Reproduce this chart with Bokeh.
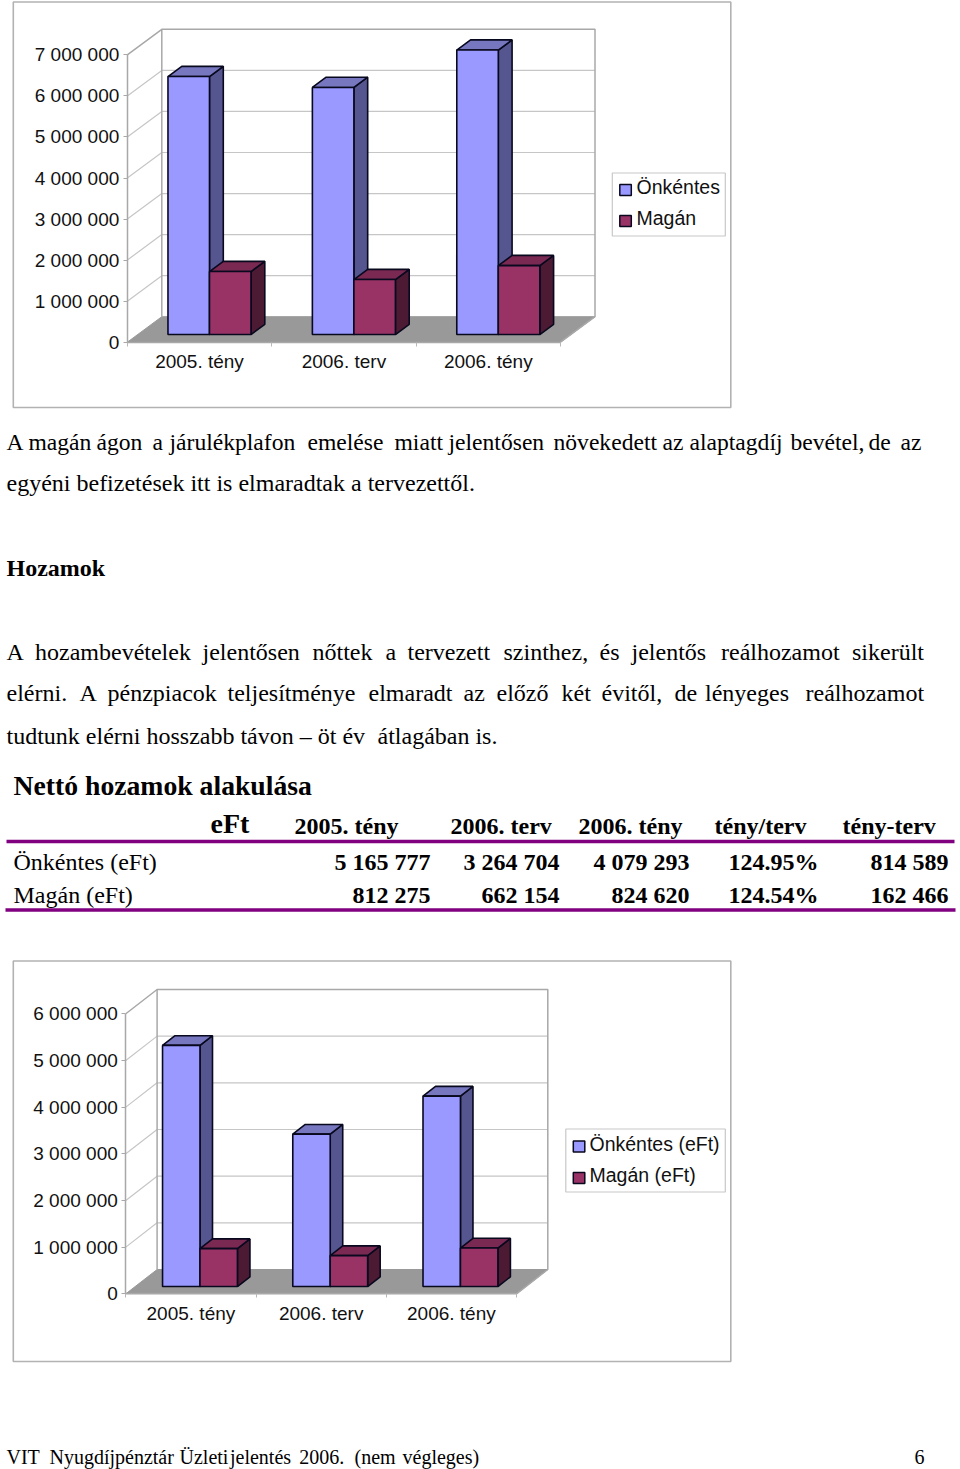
from bokeh.plotting import figure
from bokeh.models import Range1d, LinearAxis, FixedTicker
from bokeh.core.properties import value
from bokeh.embed import file_html
from bokeh.resources import INLINE

# ---------- data ----------
categories = ["2005. tény", "2006. terv", "2006. tény"]

chart1_names = ["Önkéntes", "Magán"]
chart1_onkentes = [6285000, 6020000, 6930000]
chart1_magan = [1535000, 1340000, 1680000]
chart1_ticks = [0, 1000000, 2000000, 3000000, 4000000, 5000000, 6000000, 7000000]
chart1_tick_labels = ["0", "1 000 000", "2 000 000", "3 000 000", "4 000 000", "5 000 000", "6 000 000", "7 000 000"]

chart2_names = ["Önkéntes (eFt)", "Magán (eFt)"]
chart2_onkentes = [5165777, 3264704, 4079293]
chart2_magan = [812275, 662154, 824620]
chart2_ticks = [0, 1000000, 2000000, 3000000, 4000000, 5000000, 6000000]
chart2_tick_labels = ["0", "1 000 000", "2 000 000", "3 000 000", "4 000 000", "5 000 000", "6 000 000"]

table_title = "Nettó hozamok alakulása"
table_unit = "eFt"
table_head = ["2005. tény", "2006. terv", "2006. tény", "tény/terv", "tény-terv"]
table_row_names = ["Önkéntes (eFt)", "Magán (eFt)"]
table_row1 = ["5 165 777", "3 264 704", "4 079 293", "124.95%", "814 589"]
table_row2 = ["812 275", "662 154", "824 620", "124.54%", "162 466"]

para1_line1 = ["A", "magán", "ágon", "a", "járulékplafon", "emelése", "miatt", "jelentősen", "növekedett", "az", "alaptagdíj", "bevétel,", "de", "az"]
para1_line2 = "egyéni befizetések itt is elmaradtak a tervezettől."
heading = "Hozamok"
para2_line1 = ["A", "hozambevételek", "jelentősen", "nőttek", "a", "tervezett", "szinthez,", "és", "jelentős", "reálhozamot", "sikerült"]
para2_line2 = ["elérni.", "A", "pénzpiacok", "teljesítménye", "elmaradt", "az", "előző", "két", "évitől,", "de", "lényeges", "reálhozamot"]
para2_line3 = ["tudtunk elérni hosszabb távon – öt év", "átlagában is."]
footer_words = ["VIT", "Nyugdíjpénztár", "Üzleti", "jelentés", "2006.", "(nem", "végleges)"]
footer_right = "6"

# ---------- layout ----------
W, H = 960, 1469
SERIF = value("Liberation Serif")
SANS = value("Liberation Sans")
BLUE = ("#9999FF", "#7777BF", "#55558F")   # front, top, side
RED = ("#993366", "#7A2952", "#4D1A33")
EDGE = "#08081E"

p = figure(width=W, height=H, x_range=Range1d(0, W), y_range=Range1d(H, 0),
           x_axis_type=None, y_axis_type=None, toolbar_location=None,
           output_backend="svg", min_border=0, outline_line_color=None)
p.grid.visible = False


def chart(name, onk, mag, ticks, tick_labels, series, frame, x_left, x_right, y_zero, px_per_m,
          depth_px, legend_box, legend_rows, legend_text_x):
    xn, yn = name + "x", name + "y"
    cat_w = (x_right - x_left) / 3.0
    unit = px_per_m / 1e6
    p.extra_x_ranges[xn] = Range1d((0 - x_left) / cat_w, (W - x_left) / cat_w)
    p.extra_y_ranges[yn] = Range1d((y_zero - H) / unit, y_zero / unit)
    dx, dy = depth_px[0] / cat_w, depth_px[1] / unit
    rn = dict(x_range_name=xn, y_range_name=yn)
    top = ticks[-1]

    # chart frame
    p.quad(left=[frame[0]], right=[frame[1]], top=[frame[2]], bottom=[frame[3]],
           fill_color="white", line_color="#B2B2B2", line_width=1.6)

    # side wall + back wall gridlines
    for t in ticks[1:-1]:
        p.line([0, dx, 3 + dx], [t, t + dy, t + dy], line_color="#C6C6C6", line_width=1.2, **rn)
    # floor
    p.patch([0, dx, 3 + dx, 3], [0, dy, dy, 0], fill_color="#999999", line_color="#999999", **rn)
    # wall outline
    p.line([0, dx, 3 + dx, 3 + dx, 3], [top, top + dy, top + dy, dy, 0], line_color="#A8A8A8", line_width=1.5, **rn)
    p.line([dx, dx], [dy, top + dy], line_color="#A8A8A8", line_width=1.5, **rn)

    # bars
    d0, d1 = 0.30, 0.70
    start, width = 0.21, 0.2875
    for i in range(3):
        for j, (val, col) in enumerate(((onk[i], BLUE), (mag[i], RED))):
            a = i + start + j * width + d0 * dx
            b = a + width
            base = d0 * dy
            vt = val + d0 * dy
            ddx, ddy = (d1 - d0) * dx, (d1 - d0) * dy
            # side face
            p.patch([b, b + ddx, b + ddx, b], [base, base + ddy, vt + ddy, vt],
                    fill_color=col[2], line_color=EDGE, line_width=1.6, **rn)
            # top face
            p.patch([a, a + ddx, b + ddx, b], [vt, vt + ddy, vt + ddy, vt],
                    fill_color=col[1], line_color=EDGE, line_width=1.6, **rn)
            # front face
            p.quad(left=[a], right=[b], bottom=[base], top=[vt],
                   fill_color=col[0], line_color=EDGE, line_width=1.6, **rn)

    # axes
    yax = LinearAxis(y_range_name=yn, fixed_location=x_left, bounds=(0, top),
                     ticker=FixedTicker(ticks=ticks),
                     major_label_overrides=dict(zip(ticks, tick_labels)),
                     axis_line_color="#A8A8A8", axis_line_width=1.5,
                     major_tick_line_color="#A8A8A8", major_tick_out=4, major_tick_in=0,
                     minor_tick_line_color=None, major_label_standoff=4,
                     major_label_text_font="Liberation Sans", major_label_text_font_size="19px",
                     major_label_text_color="#111111")
    p.add_layout(yax, "left")
    xax = LinearAxis(x_range_name=xn, fixed_location=y_zero, bounds=(0, 3),
                     ticker=FixedTicker(ticks=[0.5, 1.5, 2.5], minor_ticks=[0, 1, 2, 3]),
                     major_label_overrides=dict(zip([0.5, 1.5, 2.5], categories)),
                     axis_line_color="#A8A8A8", axis_line_width=1.5,
                     major_tick_line_color=None, major_tick_out=0, major_tick_in=0,
                     minor_tick_line_color="#B8B8B8", minor_tick_out=4, minor_tick_in=0,
                     major_label_standoff=5,
                     major_label_text_font="Liberation Sans", major_label_text_font_size="19px",
                     major_label_text_color="#111111")
    p.add_layout(xax, "below")

    # legend
    p.quad(left=[legend_box[0]], right=[legend_box[1]], top=[legend_box[2]], bottom=[legend_box[3]],
           fill_color="white", line_color="#C8C8C8", line_width=1.2)
    for (sx0, sx1, sy0, sy1), label, col in zip(legend_rows, series, (BLUE, RED)):
        p.quad(left=[sx0], right=[sx1], top=[sy0], bottom=[sy1], fill_color=col[0], line_color=EDGE, line_width=1.5)
        p.text(x=[legend_text_x], y=[(sy0 + sy1) / 2 - 3], text=[label], text_font=SANS, text_font_size="19.5px",
               text_color="#111111", text_baseline="middle")


chart("c1", chart1_onkentes, chart1_magan, chart1_ticks, chart1_tick_labels, chart1_names,
      (12.8, 730.3, 1.5, 407), 126.8, 560, 341.7, 41.05, (34.5, 25.5),
      (611.8, 724.8, 172.5, 235.5), [(619.3, 630.8, 184, 195), (619.3, 630.8, 215, 226)], 636)
chart("c2", chart2_onkentes, chart2_magan, chart2_ticks, chart2_tick_labels, chart2_names,
      (12.8, 730.3, 960.5, 1361), 125.3, 516, 1293.3, 46.67, (31.3, 24.3),
      (565.3, 724.8, 1128.5, 1191.5), [(572.8, 584.3, 1140.5, 1151.5), (572.8, 584.3, 1172, 1183)], 589)


def txt(x, y, s, size, bold=False, align="left"):
    # y is the wanted baseline; the glyph is anchored on its middle
    x = x - 1 if align == "left" else x
    p.text(x=[x], y=[y - 0.33 * size], text=[s], text_font=SERIF, text_font_size=f"{size}px", text_color="#000000",
           text_font_style="bold" if bold else "normal", text_align=align, text_baseline="middle")


BODY = 24
for x, w in zip([7, 29, 97, 153, 170, 308, 395, 449, 554, 663, 690, 791, 869, 901], para1_line1):
    txt(x, 449.5, w, 23.6)
txt(7, 490.5, para1_line2, BODY)
txt(7, 575, heading, 24, True)
for x, w in zip([7, 35.5, 203, 313, 386, 408, 504, 600, 632, 721.5, 852.5], para2_line1):
    txt(x, 659, w, BODY)
for x, w in zip([7, 80, 108, 228, 369, 464, 497, 562, 602, 675, 705.5, 806], para2_line2):
    txt(x, 700.5, w, BODY)
for x, w in zip([7, 378], para2_line3):
    txt(x, 743, w, BODY)

txt(14, 794.5, table_title, 27.7, True)
txt(211, 832, table_unit, 28, True)
for x, w in zip([295, 451, 579, 715, 843], table_head):
    txt(x, 833, w, 24, True)
for y, name, row in ((869, table_row_names[0], table_row1), (902.5, table_row_names[1], table_row2)):
    txt(14, y, name, 24)
    for x, w in zip([430, 559, 689, 818, 948], row):
        txt(x, y, w, 24, True, "right")
p.line([6, 954], [841, 841], line_color="#800080", line_width=3.5)
p.line([5, 955], [909.5, 909.5], line_color="#800080", line_width=3.5)

for x, w in zip([7, 50, 180, 230.5, 299.7, 355, 403], footer_words):
    txt(x, 1463.5, w, 20)
txt(924, 1463.5, footer_right, 20, False, "right")

open("out.html", "w").write(file_html(p, INLINE))
